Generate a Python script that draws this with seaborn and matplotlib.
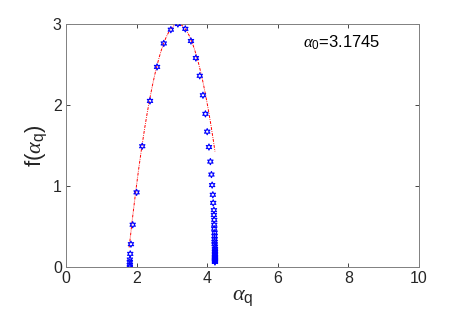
import numpy as np
import pandas as pd
import matplotlib
matplotlib.use('Agg')
import matplotlib.pyplot as plt
import seaborn as sns

# multifractal spectrum points
alpha_q = [1.81, 1.81, 1.81, 1.81, 1.82, 1.84, 1.89, 2.00, 2.16, 2.38, 2.58, 2.77, 2.97, 3.17,
           3.38, 3.54, 3.68, 3.79, 3.88, 3.95, 4.00, 4.05, 4.09, 4.12, 4.14, 4.16, 4.17, 4.19,
           4.19, 4.20, 4.20, 4.20, 4.21, 4.21, 4.21, 4.21, 4.21, 4.22, 4.22, 4.22, 4.22, 4.22,
           4.22, 4.22, 4.22, 4.22, 4.22, 4.22, 4.22, 4.22]
f_alpha = [0.00, 0.02, 0.06, 0.09, 0.16, 0.28, 0.52, 0.92, 1.49, 2.05, 2.47, 2.76, 2.93, 3.00,
           2.94, 2.79, 2.58, 2.36, 2.12, 1.89, 1.67, 1.48, 1.30, 1.14, 1.01, 0.89, 0.79, 0.70,
           0.64, 0.58, 0.52, 0.47, 0.42, 0.38, 0.34, 0.31, 0.28, 0.25, 0.22, 0.20, 0.18, 0.16,
           0.14, 0.12, 0.11, 0.10, 0.09, 0.08, 0.07, 0.06]

# quadratic fit parameters (peak, height, curvature, range)
alpha0 = 3.1745
f_max = 3.0
curv = 1.44
fit_range = [1.79, 4.22]

x_ticks = [0, 2, 4, 6, 8, 10]
y_ticks = [0, 1, 2, 3]

sns.set_style('ticks')
plt.rcParams['font.family'] = ['Liberation Sans', 'DejaVu Sans']
plt.rcParams['mathtext.fontset'] = 'custom'
plt.rcParams['mathtext.it'] = 'Liberation Serif:italic'
plt.rcParams['mathtext.rm'] = 'Liberation Sans'

fig = plt.figure(figsize=(4.63, 3.29), dpi=100)
ax = fig.add_axes([0.1425, 0.189, 0.7625, 0.738])

pts = pd.DataFrame({'alpha': alpha_q, 'f': f_alpha})
xf = np.linspace(fit_range[0], fit_range[1], 200)
fit = pd.DataFrame({'alpha': xf, 'f': f_max - curv * (xf - alpha0) ** 2})

sns.lineplot(data=fit, x='alpha', y='f', ax=ax, color='red', lw=0.7,
             linestyle=(0, (3, 1.2, 0.8, 1.2)), sort=False)
sns.scatterplot(data=pts, x='alpha', y='f', ax=ax, marker=(6, 1, 0), s=20,
                facecolor='none', edgecolor='blue', linewidth=0.8, zorder=3)

ax.set_xlim(0, 10)
ax.set_ylim(0, 3)
ax.set_xticks(x_ticks)
ax.set_yticks(y_ticks)
ax.tick_params(direction='in', length=3, width=0.6, colors='#262626', labelsize=11.5,
               top=True, right=True, pad=3)
for s in ax.spines.values():
    s.set_color('#808080')
    s.set_linewidth(0.7)
    s.set_visible(True)

ax.set_xlabel(r'$\alpha_{\mathrm{q}}$', fontsize=16, color='#262626', labelpad=1)
ax.set_ylabel(r'f($\alpha_{\mathrm{q}}$)', fontsize=16, color='#262626', labelpad=3)
ax.text(6.7, 2.77, r'$\alpha_{\mathrm{0}}$=3.1745', fontsize=12, color='black', va='center')

fig.savefig('out.png', dpi=100)
